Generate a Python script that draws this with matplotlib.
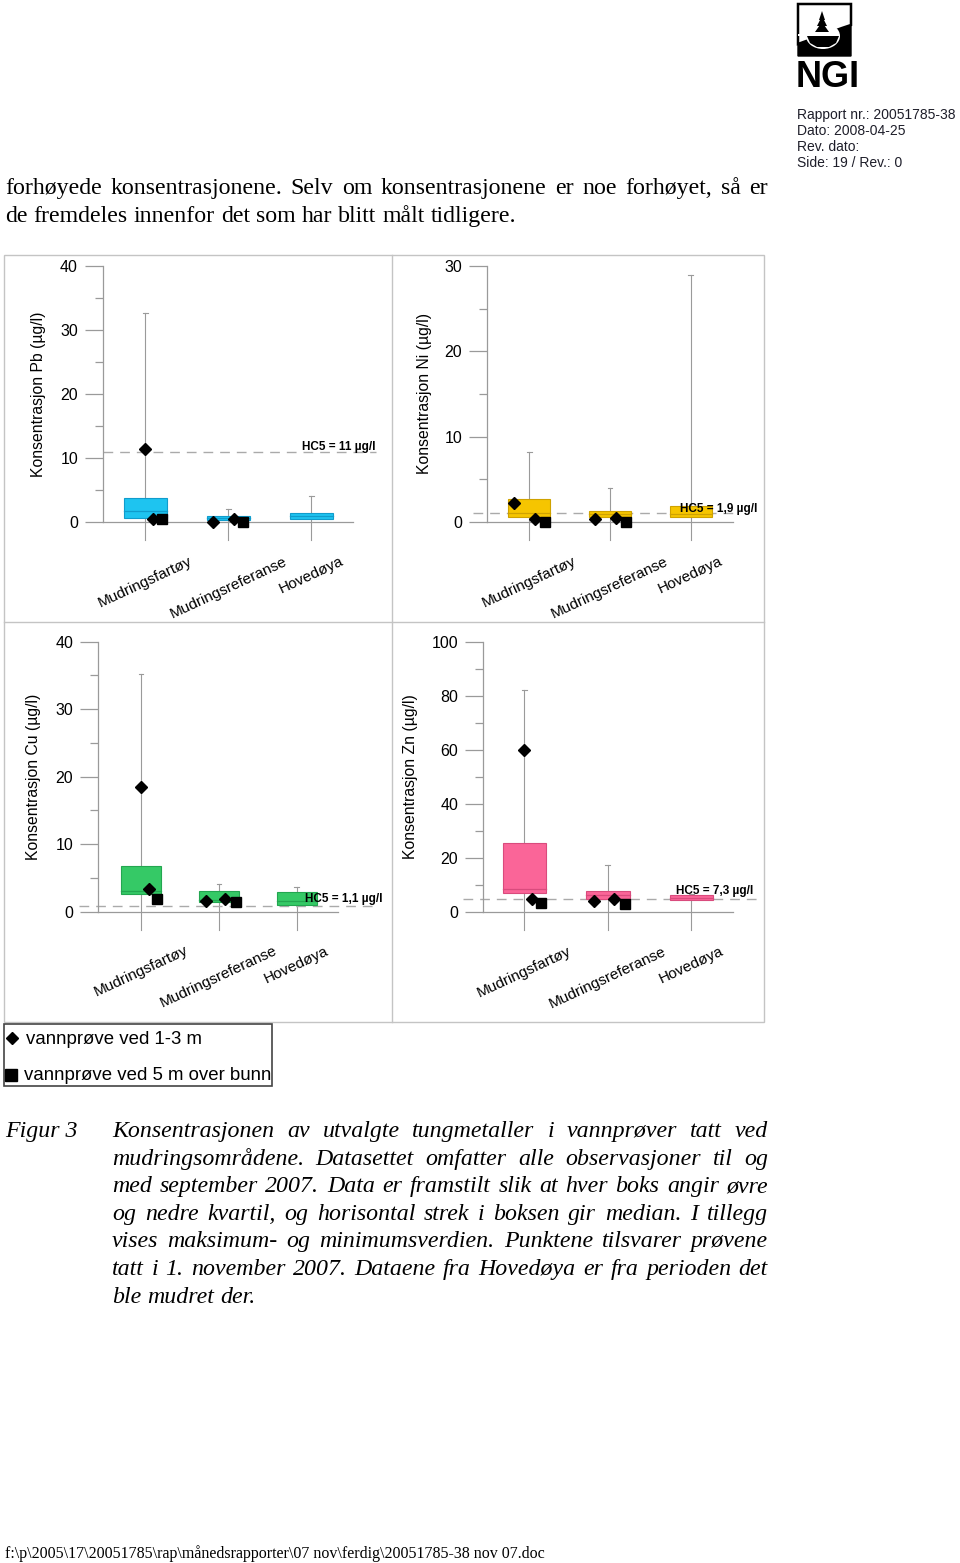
import numpy as np
import matplotlib
matplotlib.use("Agg")
import matplotlib.pyplot as plt
from matplotlib.patches import Rectangle, Polygon, Ellipse
from matplotlib.transforms import blended_transform_factory
from matplotlib.font_manager import FontProperties

W, H = 960, 1563

# ---- data ----
categories = ["Mudringsfartøy", "Mudringsreferanse", "Hovedøya"]

# box: lower quartile, median, upper quartile, maximum, minimum
pb_q1 = [0.7, 0.3, 0.5]
pb_med = [1.7, 0.6, 0.9]
pb_q3 = [3.75, 0.9, 1.4]
pb_max = [32.7, 2.1, 4.0]
pb_min = [-2.8, -2.8, -2.8]
pb_shallow = [[11.4, 0.5], [0.0, 0.4]]   # vannprøve ved 1-3 m
pb_deep = [0.4, 0.0]                       # vannprøve ved 5 m over bunn
pb_hc5 = 11.0

ni_q1 = [0.55, 0.6, 0.55]
ni_med = [1.05, 0.95, 0.95]
ni_q3 = [2.65, 1.3, 1.9]
ni_max = [8.2, 4.0, 29.0]
ni_min = [-2.1, -2.1, -2.1]
ni_shallow = [[2.2, 0.4], [0.4, 0.45]]
ni_deep = [0.0, 0.0]
ni_hc5 = 1.1

cu_q1 = [2.6, 1.5, 1.0]
cu_med = [3.0, 1.7, 1.6]
cu_q3 = [6.8, 3.0, 2.9]
cu_max = [35.2, 4.05, 3.6]
cu_min = [-2.7, -2.7, -2.7]
cu_shallow = [[18.5, 3.3], [1.55, 1.9]]
cu_deep = [1.9, 1.4]
cu_hc5 = 0.8

zn_q1 = [6.9, 4.7, 4.3]
zn_med = [8.6, 6.3, 5.3]
zn_q3 = [25.6, 7.9, 6.3]
zn_max = [82.1, 17.4, 6.5]
zn_min = [-6.8, -6.8, -6.8]
zn_shallow = [[59.8, 4.9], [3.95, 4.8]]
zn_deep = [3.2, 3.1]
zn_hc5 = 4.8

body_lines = [
    "forhøyede konsentrasjonene. Selv om konsentrasjonene er noe forhøyet, så er",
    "de fremdeles innenfor det som har blitt målt tidligere.",
]
caption_lines = [
    "Konsentrasjonen av utvalgte tungmetaller i vannprøver tatt ved",
    "mudringsområdene. Datasettet omfatter alle observasjoner til og",
    "med september 2007. Data er framstilt slik at hver boks angir øvre",
    "og nedre kvartil, og horisontal strek i boksen gir median. I tillegg",
    "vises maksimum- og minimumsverdien. Punktene tilsvarer prøvene",
    "tatt i 1. november 2007. Dataene fra Hovedøya er fra perioden det",
    "ble mudret der.",
]
header_lines = ["Rapport nr.: 20051785-38", "Dato: 2008-04-25", "Rev. dato:", "Side: 19 / Rev.: 0"]
footer = r"f:\p\2005\17\20051785\rap\månedsrapporter\07 nov\ferdig\20051785-38 nov 07.doc"

SANS = "Liberation Sans"
SERIF = "Liberation Serif"
GREY = "#9a9a9a"

fig = plt.figure(figsize=(W / 100, H / 100), dpi=100)
fig.patch.set_facecolor("white")

# page layer in pixel coordinates
page = fig.add_axes([0, 0, 1, 1])
page.set_xlim(0, W)
page.set_ylim(H, 0)
page.axis("off")

renderer = fig.canvas.get_renderer()


def put_line(text, x0, x1, y, fp, justify=True):
    words = text.split(" ")
    items, widths = [], []
    for w in words:
        t = page.text(x0, y, w, fontproperties=fp, va="baseline", ha="left")
        items.append(t)
        widths.append(t.get_window_extent(renderer).width)
    if justify and len(words) > 1:
        gap = (x1 - x0 - sum(widths)) / (len(words) - 1)
    else:
        sp = page.text(0, 0, "a a", fontproperties=fp)
        sp2 = page.text(0, 0, "aa", fontproperties=fp)
        gap = sp.get_window_extent(renderer).width - sp2.get_window_extent(renderer).width
        sp.remove()
        sp2.remove()
    x = x0
    for t, w in zip(items, widths):
        t.set_x(x)
        x += w + gap


# ---- header ----
# simplified NGI logo
page.add_patch(Polygon([(798, 4), (851, 4), (851, 25), (842, 28), (798, 44)], closed=True,
                       fc="white", ec="black", lw=1.8))
page.add_patch(Polygon([(798, 45), (842, 29), (851, 26), (851, 56), (798, 56)], closed=True,
                       fc="black", ec="black", lw=1))
page.add_patch(Ellipse((823, 36), 34, 26, fc="white", ec="none"))
page.add_patch(Polygon([(807, 36), (839, 36), (836, 43), (829, 47), (817, 47), (810, 43)],
                       closed=True, fc="black", ec="none"))
page.add_patch(Rectangle((798, 34), 9, 2, fc="white", ec="none"))
for top, half, base in [(11, 3, 20), (16, 5, 26), (22, 7, 32)]:
    page.add_patch(Polygon([(822, top), (822 - half, base), (822 + half, base)], closed=True,
                           fc="black", ec="none"))
page.text(796, 87, "NGI", fontsize=26, fontweight="heavy", family=SANS, va="baseline", ha="left")

for i, line in enumerate(header_lines):
    page.text(797, 115 + 16 * i, line, fontsize=10, family=SANS, color="#1e1e2a",
              va="center", ha="left")

body_fp = FontProperties(family=SERIF, size=17.2)
put_line(body_lines[0], 5, 768, 194, body_fp, justify=True)
put_line(body_lines[1], 5, 768, 222, body_fp, justify=False)

# ---- panel frames ----
page.add_patch(Rectangle((4, 255), 760, 767, fc="none", ec="#c4c4c4", lw=1))
page.plot([392, 392], [255, 1022], color="#c4c4c4", lw=1)
page.plot([4, 764], [622, 622], color="#c4c4c4", lw=1)

# ---- the four box plots ----
panels = [
    dict(rect=(103, 353, 266, 522), xlim=(0.49, 3.5), ylim=40, major=10, minor=5,
         q1=pb_q1, med=pb_med, q3=pb_q3, hi=pb_max, lo=pb_min,
         shallow=pb_shallow, deep=pb_deep, hc5=pb_hc5,
         face="#1ec4f0", edge="#109ccc", ylabel="Konsentrasjon Pb (µg/l)", ylab_x=39,
         hc5_text="HC5 = 11 µg/l", hc5_x=1.088, hc5_ha="right", hc5_dy=1.5, dash=(0.0, 1.09),
         sh_off=[[0.0, 0.09], [-0.18, 0.07]], dp_off=[0.2, 0.18]),
    dict(rect=(487.3, 732.7, 266, 522), xlim=(0.48, 3.52), ylim=30, major=10, minor=5,
         q1=ni_q1, med=ni_med, q3=ni_q3, hi=ni_max, lo=ni_min,
         shallow=ni_shallow, deep=ni_deep, hc5=ni_hc5,
         face="#f6c500", edge="#cfa200", ylabel="Konsentrasjon Ni (µg/l)", ylab_x=424,
         hc5_text="HC5 = 1,9 µg/l", hc5_x=0.785, hc5_ha="left", hc5_dy=0.5, dash=(-0.06, 1.0),
         sh_off=[[-0.19, 0.07], [-0.18, 0.07]], dp_off=[0.2, 0.2]),
    dict(rect=(98.3, 338, 641.7, 911.7), xlim=(0.45, 3.53), ylim=40, major=10, minor=5,
         q1=cu_q1, med=cu_med, q3=cu_q3, hi=cu_max, lo=cu_min,
         shallow=cu_shallow, deep=cu_deep, hc5=cu_hc5,
         face="#35c966", edge="#23a650", ylabel="Konsentrasjon Cu (µg/l)", ylab_x=34,
         hc5_text="HC5 = 1,1 µg/l", hc5_x=0.862, hc5_ha="left", hc5_dy=3.4, dash=(-0.08, 1.17),
         sh_off=[[0.0, 0.1], [-0.17, 0.08]], dp_off=[0.2, 0.22]),
    dict(rect=(483.3, 733.3, 641.7, 912), xlim=(0.51, 3.5), ylim=100, major=20, minor=10,
         q1=zn_q1, med=zn_med, q3=zn_q3, hi=zn_max, lo=zn_min,
         shallow=zn_shallow, deep=zn_deep, hc5=zn_hc5,
         face="#fa6598", edge="#d94b7d", ylabel="Konsentrasjon Zn (µg/l)", ylab_x=410,
         hc5_text="HC5 = 7,3 µg/l", hc5_x=0.771, hc5_ha="left", hc5_dy=3.6, dash=(-0.08, 1.1),
         sh_off=[[0.0, 0.09], [-0.17, 0.07]], dp_off=[0.2, 0.2]),
]

BOX_W = 0.52
xs = np.arange(1, len(categories) + 1)

for p in panels:
    left, right, top, bottom = p["rect"]
    ax = fig.add_axes([left / W, 1 - bottom / H, (right - left) / W, (bottom - top) / H])
    ax.patch.set_alpha(0)
    ax.set_xlim(*p["xlim"])
    ax.set_ylim(0, p["ylim"])
    for s in ["top", "right"]:
        ax.spines[s].set_visible(False)
    for s in ["left", "bottom"]:
        ax.spines[s].set_color(GREY)
        ax.spines[s].set_linewidth(0.9)
    ax.set_yticks(np.arange(0, p["ylim"] + 1, p["major"]))
    ax.set_yticks(np.arange(p["minor"], p["ylim"], p["major"]), minor=True)
    ax.tick_params(axis="y", which="major", length=13, width=0.9, color=GREY, pad=5,
                   labelsize=11.5, labelcolor="black")
    ax.tick_params(axis="y", which="minor", length=6, width=0.9, color=GREY)
    for lab in ax.get_yticklabels():
        lab.set_family(SANS)
    ax.set_xticks(xs)
    ax.set_xticklabels(categories, rotation=25, fontsize=11, family=SANS)
    ax.tick_params(axis="x", length=0, pad=23)

    for i, x in enumerate(xs):
        ax.plot([x, x], [p["lo"][i], p["hi"][i]], color=GREY, lw=0.8, zorder=1, clip_on=False)
        ax.plot([x - 0.03, x + 0.03], [p["hi"][i]] * 2, color=GREY, lw=0.8, zorder=1)
        ax.add_patch(Rectangle((x - BOX_W / 2, p["q1"][i]), BOX_W, p["q3"][i] - p["q1"][i],
                               fc=p["face"], ec=p["edge"], lw=0.8, zorder=2))
        ax.plot([x - BOX_W / 2, x + BOX_W / 2], [p["med"][i]] * 2, color=p["edge"], lw=0.9, zorder=3)

    ax.plot(p["dash"], [p["hc5"]] * 2, color="#aaaaaa", lw=1, ls=(0, (7, 5)), zorder=1.5,
            clip_on=False, transform=blended_transform_factory(ax.transAxes, ax.transData))
    ax.annotate(p["hc5_text"], xy=(p["hc5_x"], p["hc5"]),
                xycoords=blended_transform_factory(ax.transAxes, ax.transData),
                xytext=(0, p["hc5_dy"]), textcoords="offset points", ha=p["hc5_ha"], va="baseline",
                fontsize=8.5, fontweight="bold", family=SANS, zorder=5)

    for i, vals in enumerate(p["shallow"]):
        for v, off in zip(vals, p["sh_off"][i]):
            ax.plot(xs[i] + off, v, marker="D", ms=6.5, color="black", ls="none", zorder=6, clip_on=False)
        ax.plot(xs[i] + p["dp_off"][i], p["deep"][i], marker="s", ms=7.5, color="black", ls="none",
                zorder=6, clip_on=False)

    fig.text(p["ylab_x"] / W, 1 - ((top + bottom) / 2) / H, p["ylabel"], rotation=90,
             ha="center", va="center", fontsize=11.3, family=SANS)

# ---- legend box ----
page.add_patch(Rectangle((4, 1024), 268, 62, fc="white", ec="#444444", lw=1.2))
page.plot(12, 1038, marker="D", ms=6, color="black")
page.text(26, 1039, "vannprøve ved 1-3 m", fontsize=13.4, family=SANS, va="center")
page.plot(11, 1075, marker="s", ms=8, color="black")
page.text(24, 1076, "vannprøve ved 5 m over bunn", fontsize=13.4, family=SANS, va="center")

# ---- caption ----
cap_fp = FontProperties(family=SERIF, size=17.2, style="italic")
page.text(5, 1137, "Figur 3", fontproperties=cap_fp, va="baseline")
for i, line in enumerate(caption_lines):
    put_line(line, 112, 768, 1137 + 27.6 * i, cap_fp, justify=i < len(caption_lines) - 1)

page.text(5, 1558, footer, fontsize=11.5, family=SERIF, va="baseline")

fig.savefig("out.png", dpi=100)
